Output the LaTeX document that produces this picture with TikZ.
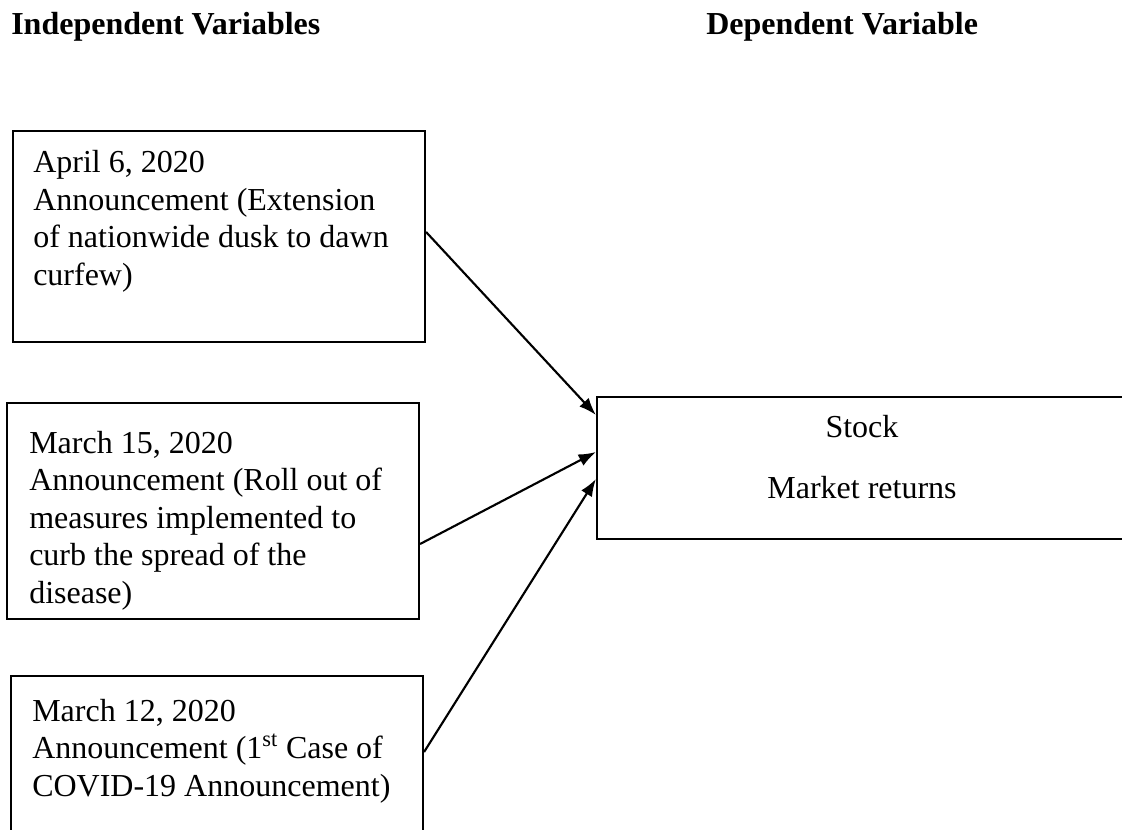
\documentclass[tikz,border=0pt]{standalone}
\usepackage{fontspec}
\setmainfont{Liberation Serif}
\usetikzlibrary{arrows.meta,fit}
\begin{document}
\begin{tikzpicture}[x=0.75pt,y=-0.75pt,
  box/.style={draw, line width=1.6pt, inner sep=0pt},
  txt/.style={anchor=base west, align=left, inner sep=0pt, font=\fontsize{24pt}{28.1pt}\selectfont},
  ctxt/.style={anchor=base, align=center, inner sep=0pt, font=\fontsize{24pt}{28.1pt}\selectfont},
  head/.style={anchor=base west, inner sep=0pt, font=\fontsize{24pt}{28pt}\selectfont\bfseries},
  arr/.style={line width=1.6pt, -{Latex[length=13pt,width=9.5pt]}}]
\useasboundingbox (0,0) rectangle (1122,829);
\clip (0,0) rectangle (1122,829);
% headings
\node[head] (h1) at (11,34) {Independent Variables};
\node[head] (h2) at (706,34) {Dependent Variable};
% box corners
\coordinate (c1a) at (13,131);  \coordinate (c1b) at (425,342);
\coordinate (c2a) at (7,403);   \coordinate (c2b) at (419,619);
\coordinate (c3a) at (11,676);  \coordinate (c3b) at (423,840);
\coordinate (c4a) at (597,397); \coordinate (c4b) at (1128,539);
\node[box, fit={(c1a)(c1b)}] (b1) {};
\node[box, fit={(c2a)(c2b)}] (b2) {};
\node[box, fit={(c3a)(c3b)}] (b3) {};
\node[box, fit={(c4a)(c4b)}] (b4) {};
% texts (anchored at the baseline of their last line)
\node[txt] (t1) at (33,285) {April 6, 2020\\Announcement (Extension\\of nationwide dusk to dawn\\curfew)};
\node[txt] (t2) at (29,603) {March 15, 2020\\Announcement (Roll out of\\measures implemented to\\curb the spread of the\\disease)};
\node[txt] (t3) at (32,796) {March 12, 2020\\Announcement (1\textsuperscript{st} Case of\\COVID-19 Announcement)};
\node[ctxt] (t4) at (862,498) {Stock\\[17pt]Market returns};
% arrows
\draw[arr] ([yshift=3.4pt]b1.east) -- ([yshift=39.75pt]b4.west);
\draw[arr] ([yshift=-24.75pt]b2.east) -- ([yshift=12pt]b4.west);
\draw[arr] ([yshift=4.5pt]b3.east) -- ([yshift=-8.25pt]b4.west);
\end{tikzpicture}
\end{document}
